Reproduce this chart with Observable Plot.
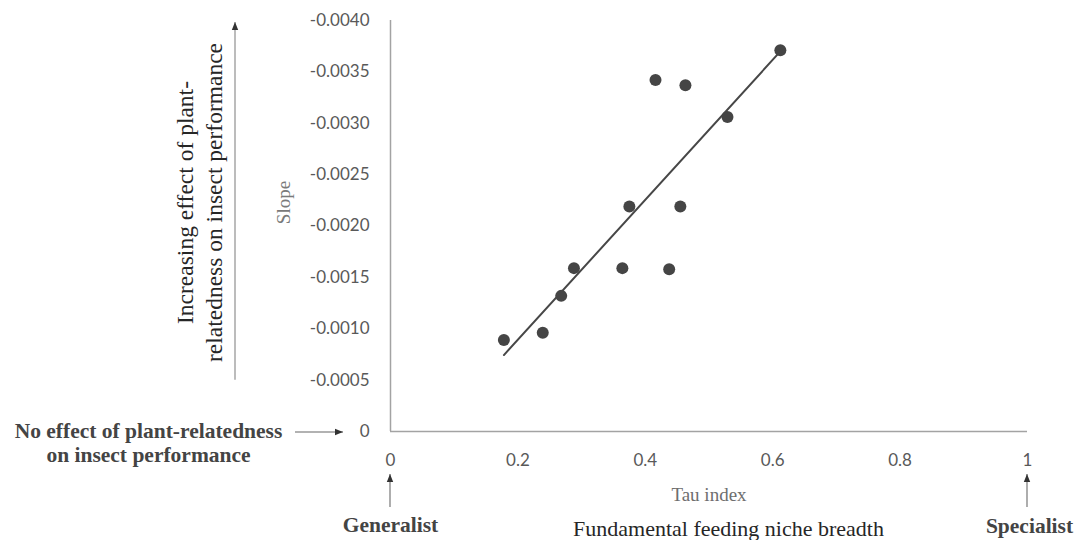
<!DOCTYPE html>
<html>
<head>
<meta charset="utf-8">
<script src="https://cdn.jsdelivr.net/npm/d3@7"></script>
<script src="https://cdn.jsdelivr.net/npm/@observablehq/plot@0.6"></script>
<style>
  body { margin: 0; background: #fff; }
  #chart svg { display: block; }
</style>
</head>
<body>
<div id="chart"></div>
<script>
// Tau index (feeding niche breadth) and host-relatedness slope per insect species
const tau   = [0.178, 0.239, 0.268, 0.288, 0.364, 0.375, 0.416, 0.4375, 0.455, 0.463, 0.529, 0.612];
const slope = [-0.00089, -0.00096, -0.00132, -0.00159, -0.00159, -0.00219, -0.00342, -0.00158, -0.00219, -0.00337, -0.00306, -0.00371];

const tauTicks   = [0, 0.2, 0.4, 0.6, 0.8, 1];
const slopeTicks = [0, -0.0005, -0.001, -0.0015, -0.002, -0.0025, -0.003, -0.0035, -0.004];

const points = tau.map((t, i) => ({tau: t, slope: slope[i]}));

const serif = "'Liberation Serif', 'Times New Roman', serif";
const centered = {textAnchor: "middle", lineAnchor: "middle", text: d => d};

const chart = Plot.plot({
  width: 1077,
  height: 540,
  marginLeft: 390,
  marginRight: 50,
  marginTop: 20,
  marginBottom: 109,
  style: {background: "#fff", color: "#595959", fontFamily: "Lato, sans-serif", fontSize: "17px"},
  x: {
    domain: [0, 1],
    ticks: tauTicks,
    tickSize: 0,
    tickPadding: 22,
    tickFormat: d => String(d),
    label: null
  },
  y: {
    domain: [0, -0.004],
    ticks: slopeTicks,
    tickSize: 0,
    tickPadding: 21,
    tickFormat: d => d === 0 ? "0" : d.toFixed(4),
    label: null
  },
  marks: [
    Plot.ruleX([0], {stroke: "#a3a3a3", strokeWidth: 1.5}),
    Plot.ruleY([0], {stroke: "#a3a3a3", strokeWidth: 1.5}),
    Plot.linearRegressionY(points, {x: "tau", y: "slope", ci: 0, stroke: "#474747", strokeWidth: 2}),
    Plot.dot(points, {x: "tau", y: "slope", r: 6, fill: "#454545"}),

    // axis titles
    Plot.text(["Slope"], {...centered, frameAnchor: "left", dx: -107, dy: -23.5, rotate: -90,
      fontFamily: serif, fontSize: 19, fill: "#7a7a7a"}),
    Plot.text(["Tau index"], {...centered, frameAnchor: "bottom", dx: 0, dy: 63,
      fontFamily: serif, fontSize: 19, fill: "#6e6e6e"}),

    // interpretive annotations
    Plot.text(["Increasing effect of plant-\nrelatedness on insect performance"], {
      ...centered, frameAnchor: "left", dx: -192, dy: -23.5, rotate: -90,
      lineHeight: 1.22, fontFamily: serif, fontSize: 23.5, fill: "#262626"}),
    Plot.text(["No effect of plant-relatedness\non insect performance"], {
      ...centered, frameAnchor: "bottom-left", dx: -242, dy: 11, lineHeight: 1.116,
      fontFamily: serif, fontSize: 21.5, fontWeight: "bold", fill: "#444"}),
    Plot.text(["Generalist"], {...centered, frameAnchor: "bottom-left", dx: 0, dy: 94,
      fontFamily: serif, fontSize: 21.5, fontWeight: "bold", fill: "#444"}),
    Plot.text(["Specialist"], {...centered, frameAnchor: "bottom-right", dx: 2, dy: 95,
      fontFamily: serif, fontSize: 21.5, fontWeight: "bold", fill: "#444"}),
    Plot.text(["Fundamental feeding niche breadth"], {...centered, frameAnchor: "bottom", dx: 19.5, dy: 97,
      fontFamily: serif, fontSize: 22, fill: "#262626"})
  ]
});

document.getElementById("chart").appendChild(chart);

// Arrows pointing at the axis extremes, anchored on the plot's own scales
const sx = chart.scale("x"), sy = chart.scale("y");
const X = v => sx.apply(v), Y = v => sy.apply(v);
const svg = d3.select(chart);

svg.append("defs").append("marker")
  .attr("id", "head")
  .attr("viewBox", "0 0 10 10")
  .attr("refX", 10).attr("refY", 5)
  .attr("markerUnits", "userSpaceOnUse")
  .attr("markerWidth", 8).attr("markerHeight", 8)
  .attr("orient", "auto")
  .append("path").attr("d", "M0,1L10,5L0,9Z").attr("fill", "#333");

const arrows = [
  {x1: X(0) - 155, y1: Y(-0.0005), x2: X(0) - 155, y2: Y(-0.004) + 2, stroke: "#8f8f8f"},
  {x1: X(0) - 95, y1: Y(0) + 1, x2: X(0) - 47, y2: Y(0) + 1, stroke: "#666"},
  {x1: X(0), y1: Y(0) + 76, x2: X(0), y2: Y(0) + 43, stroke: "#777"},
  {x1: X(1), y1: Y(0) + 76, x2: X(1), y2: Y(0) + 43, stroke: "#777"}
];

svg.append("g").selectAll("line").data(arrows).join("line")
  .attr("x1", d => d.x1).attr("y1", d => d.y1)
  .attr("x2", d => d.x2).attr("y2", d => d.y2)
  .attr("stroke", d => d.stroke)
  .attr("stroke-width", 1.2)
  .attr("marker-end", "url(#head)");
</script>
</body>
</html>
